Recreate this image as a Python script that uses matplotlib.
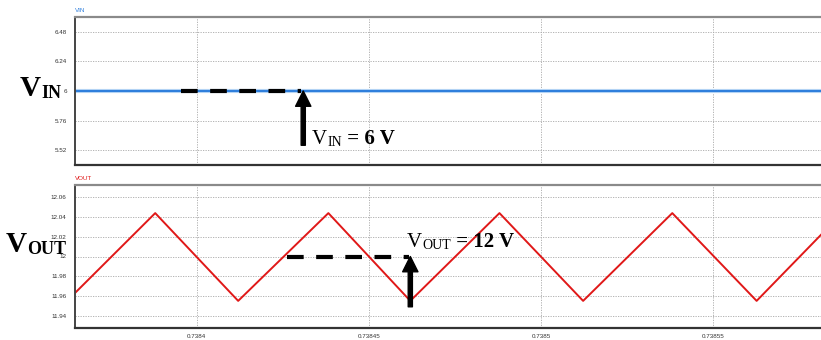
import matplotlib.pyplot as plt

# waveform data
t_lim = (0.7383646, 0.7385813)
t_vin = [0.7383646, 0.7385813]
v_in = [6.0, 6.0]
t_vout = [0.7383646, 0.7383879, 0.7384120, 0.7384382, 0.7384620,
          0.7384879, 0.7385122, 0.7385381, 0.7385626, 0.7385813]
v_out = [11.963, 12.044, 11.955, 12.044, 11.955,
         12.044, 11.955, 12.044, 11.955, 12.022]

vin_ticks = [5.52, 5.76, 6.0, 6.24, 6.48]
vin_labels = ["5.52", "5.76", "6", "6.24", "6.48"]
vout_ticks = [11.94, 11.96, 11.98, 12.0, 12.02, 12.04, 12.06]
vout_labels = ["11.94", "11.96", "11.98", "12", "12.02", "12.04", "12.06"]
t_ticks = [0.7384, 0.73845, 0.7385, 0.73855]
t_labels = ["0.7384", "0.73845", "0.7385", "0.73855"]

plt.rcParams["font.family"] = ["Liberation Sans", "DejaVu Sans"]

fig = plt.figure(figsize=(8.21, 3.40), dpi=100)
ax1 = fig.add_axes([75 / 821, 1 - 165 / 340, 746 / 821, 148 / 340])
ax2 = fig.add_axes([75 / 821, 1 - 328 / 340, 746 / 821, 143 / 340])

for ax in (ax1, ax2):
    ax.set_xlim(*t_lim)
    ax.set_xticks(t_ticks)
    ax.tick_params(length=0, labelsize=4.5, labelcolor="#333333", pad=6)
    ax.grid(True, color="#a8a8a8", lw=0.6, ls=(0, (1.5, 1.5)))
    ax.set_axisbelow(True)
    ax.spines["right"].set_visible(False)
    ax.spines["top"].set_color("#8a8a8a")
    ax.spines["top"].set_linewidth(1.6)
    ax.spines["left"].set_color("#444444")
    ax.spines["left"].set_linewidth(1.4)
    ax.spines["bottom"].set_color("#333333")
    ax.spines["bottom"].set_linewidth(1.6)

ax1.set_xticklabels([])
ax2.set_xticklabels(t_labels)
ax2.tick_params(axis="x", pad=4)

ax1.set_ylim(5.4, 6.6)
ax1.set_yticks(vin_ticks)
ax1.set_yticklabels(vin_labels)
ax2.set_ylim(11.9275, 12.0725)
ax2.set_yticks(vout_ticks)
ax2.set_yticklabels(vout_labels)

# traces
ax1.plot(t_vin, v_in, color="#c4def7", lw=3.0, solid_capstyle="butt")
ax1.plot(t_vin, v_in, color="#2f7fdc", lw=1.6, solid_capstyle="butt")
ax2.plot(t_vout, v_out, color="#e01818", lw=1.4)

ax1.text(0.0, 1.03, "VIN", transform=ax1.transAxes, fontsize=4.5,
         color="#2f7fdc", ha="left", va="bottom")
ax2.text(0.0, 1.03, "VOUT", transform=ax2.transAxes, fontsize=4.5,
         color="#e01818", ha="left", va="bottom")

# dashed reference lines and arrows
ax1.plot([0.7383954, 0.7384303], [6.0, 6.0], color="black", lw=3,
         dashes=(4, 3), solid_capstyle="butt", dash_capstyle="butt")
ax1.annotate("", xy=(0.7384309, 6.0), xytext=(0.7384309, 5.56),
             arrowprops=dict(width=3, headwidth=11, headlength=11,
                             color="black", shrink=0))
ax2.plot([0.73842625, 0.7384617], [12.0, 12.0], color="black", lw=3,
         dashes=(4, 3), solid_capstyle="butt", dash_capstyle="butt")
ax2.annotate("", xy=(0.738462, 12.0), xytext=(0.738462, 11.949),
             arrowprops=dict(width=3, headwidth=11, headlength=11,
                             color="black", shrink=0))

fig_px = fig.transFigure.inverted()


def px(x, y):
    return fig_px.transform((x, 340 - y))


def chain(ax, x, y, parts):
    """Write text pieces one after another, bottoms aligned."""
    prev = None
    for s, size, weight in parts:
        kw = dict(fontsize=size, fontweight=weight, color="black",
                  family=["Liberation Serif", "DejaVu Serif"],
                  ha="left", va="bottom", annotation_clip=False, zorder=10)
        if prev is None:
            prev = ax.annotate(s, xy=px(x, y), xycoords="figure fraction", **kw)
        else:
            prev = ax.annotate(s, xy=(1, 0), xycoords=prev, **kw)
    return prev


chain(ax1, 20, 102, [("V", 21, "bold"), ("IN", 13, "bold")])
chain(ax2, 6, 258, [("V", 21, "bold"), ("OUT", 13, "bold")])
chain(ax1, 312, 149, [("V", 15, "normal"), ("IN", 10, "normal"),
                      (" = 6 V", 15, "bold")])
chain(ax2, 407, 252, [("V", 15, "normal"), ("OUT", 10, "normal"),
                      (" = 12 V", 15, "bold")])

fig.savefig("out.png", dpi=100)
